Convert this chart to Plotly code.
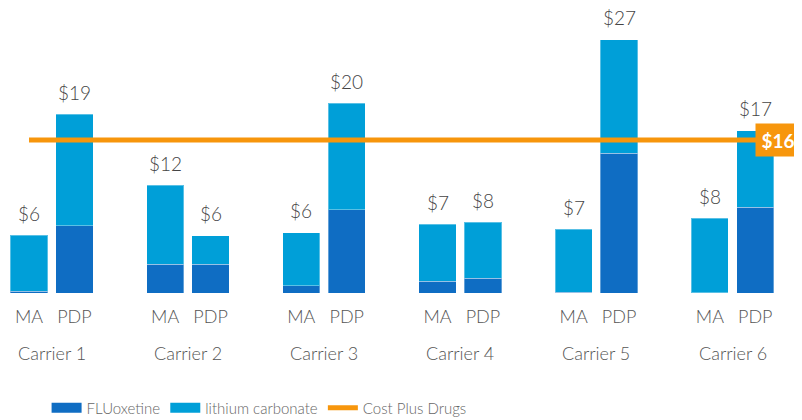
import plotly.graph_objects as go

carriers = ["Carrier 1", "Carrier 2", "Carrier 3", "Carrier 4", "Carrier 5", "Carrier 6"]
plans = ["MA", "PDP"]
# values in order: Carrier1 MA, Carrier1 PDP, Carrier2 MA, ...
fluoxetine = [0.2, 7.17, 3.1, 3.1, 0.8, 8.88, 1.25, 1.6, 0.1, 14.97, 0.05, 9.17]
lithium_carbonate = [6.0, 11.97, 8.45, 3.0, 5.65, 11.44, 6.1, 5.95, 6.7, 12.09, 7.97, 8.16]
cost_plus_drugs = 16.36
cost_plus_label = "$16"

DARK = "#0F6DC3"
LIGHT = "#009FD8"
ORANGE = "#F7960C"
FONT = "Lato"
GROUP_STEP = 3

positions = []
tick_text = []
for g, _ in enumerate(carriers):
    for j, p in enumerate(plans):
        positions.append(g * GROUP_STEP + j)
        tick_text.append(p)

totals = [a + b for a, b in zip(fluoxetine, lithium_carbonate)]

fig = go.Figure()
edge = dict(color="rgba(255,255,255,0.35)", width=1)
fig.add_trace(go.Bar(x=positions, y=fluoxetine, width=0.82, marker=dict(color=DARK, line=edge),
                     name="FLUoxetine", showlegend=False))
fig.add_trace(go.Bar(x=positions, y=lithium_carbonate, width=0.82, marker=dict(color=LIGHT, line=edge),
                     name="lithium carbonate", showlegend=False))
# legend entries drawn as wide swatches
fig.add_trace(go.Scatter(x=[None], y=[None], mode="lines", line=dict(color=DARK, width=10),
                         name="FLUoxetine"))
fig.add_trace(go.Scatter(x=[None], y=[None], mode="lines", line=dict(color=LIGHT, width=10),
                         name="lithium carbonate"))
fig.add_trace(go.Scatter(x=[positions[0], positions[-1] + 0.5], y=[cost_plus_drugs] * 2,
                         mode="lines", line=dict(color=ORANGE, width=5), name="Cost Plus Drugs"))

for x, t in zip(positions, totals):
    fig.add_annotation(x=x, y=t, text=f"${t:.0f}", showarrow=False, yanchor="middle", yshift=22,
                       font=dict(family=FONT, size=19, color="#444", weight=300))

for g, c in enumerate(carriers):
    fig.add_annotation(x=g * GROUP_STEP + 0.5, y=0, text=c, showarrow=False, yanchor="middle",
                       yshift=-60, font=dict(family=FONT, size=18, color="#555", weight=300))

fig.add_annotation(x=positions[-1] + 0.5, y=cost_plus_drugs, text=f"<b>{cost_plus_label}</b>",
                   showarrow=False, xanchor="center", yanchor="middle", width=42, height=30,
                   bgcolor=ORANGE, font=dict(family=FONT, size=19, color="white"))

fig.update_layout(
    width=794, height=412,
    margin=dict(l=0, r=0, t=0, b=127, autoexpand=False),
    barmode="stack",
    plot_bgcolor="white", paper_bgcolor="white",
    font=dict(family=FONT, color="#555"),
    xaxis=dict(range=[-0.463, 17.03], tickvals=positions, ticktext=tick_text, showgrid=False,
               zeroline=False, showline=False, ticks="", ticklabelstandoff=11, automargin=False,
               tickfont=dict(family=FONT, size=18, color="#555", weight=300)),
    yaxis=dict(range=[0, 30.48], visible=False, automargin=False),
    legend=dict(orientation="h", xref="container", yref="container", x=0.0486, xanchor="left",
                y=0.029, yanchor="middle", traceorder="normal",
                font=dict(family=FONT, size=15, color="#666", weight=300)),
)

fig.write_html("out.html")
